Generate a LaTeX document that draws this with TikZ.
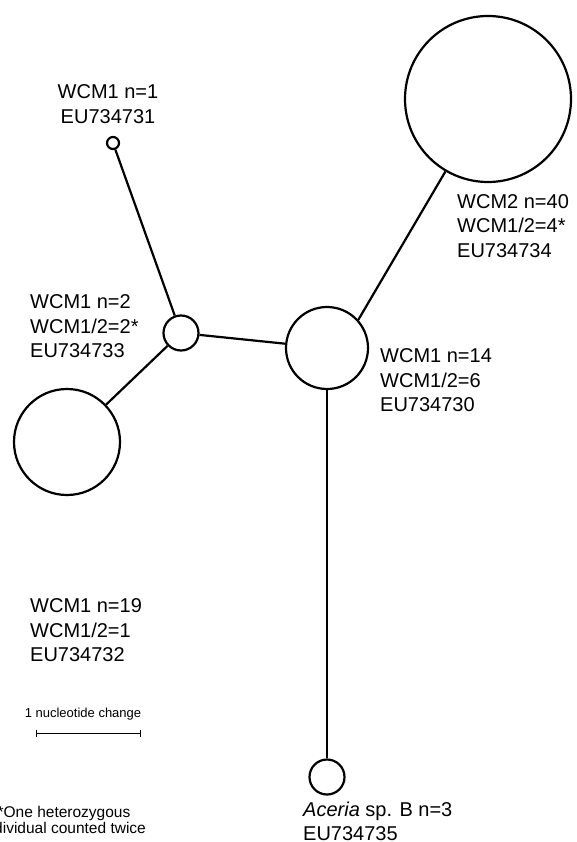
\documentclass[tikz,border=0pt]{standalone}
\usepackage{fontspec}
\setmainfont{Liberation Sans}
\usetikzlibrary{positioning}
\tikzset{
  hap/.style={circle,draw=black,fill=white,line width=2.2pt,inner sep=0pt},
  link/.style={draw=black,line width=2.2pt},
  lab/.style={inner sep=0pt,align=left,anchor=north west,
    font=\fontsize{20}{24.5}\selectfont},
  note/.style={inner sep=0pt,align=center},
}

\begin{document}
\begin{tikzpicture}[x=1pt,y=-1pt]
  \useasboundingbox (0,0) rectangle (576,842);

  % haplotypes
  \node[hap,minimum size=12pt]  (h731) at (113,143) {};
  \node[hap,minimum size=35pt]  (h733) at (181,333) {};
  \node[hap,minimum size=106pt] (h732) at (67,442) {};
  \node[hap,minimum size=82pt]  (h730) at (327,348) {};
  \node[hap,minimum size=166pt] (h734) at (488,99) {};
  \node[hap,minimum size=35pt]  (h735) at (327,777) {};

  % connections
  \draw[link] (h731) -- (h733);
  \draw[link] (h733) -- (h730);
  \draw[link] (h733) -- (h732);
  \draw[link] (h730.42) -- (h734);
  \draw[link] (h730) -- (h735);

  % labels
  \node[lab,align=center,anchor=north] (l731) at (108,84.5) {WCM1 n=1\\EU734731};
  \node[lab] (l734) at (457,194) {WCM2 n=40\\WCM1/2=4*\\EU734734};
  \node[lab] (l733) at (30,294.5) {WCM1 n=2\\WCM1/2=2*\\EU734733};
  \node[lab] (l730) at (380,348.5) {WCM1 n=14\\WCM1/2=6\\EU734730};
  \node[lab] (l732) at (30,598.5) {WCM1 n=19\\WCM1/2=1\\EU734732};
  \node[lab] (l735) at (303,801.5) {\textit{Aceria} sp. B n=3\\EU734735};

  % scale bar
  \coordinate (barL) at (36,733);
  \coordinate (barR) at (140,733);
  \node[note,font=\fontsize{13}{15}\selectfont,anchor=base] (scale) at (83,717) {1 nucleotide change};
  \draw[line width=0.9pt] (barL) -- (barR);
  \draw[line width=0.9pt] (barL) ++(0,-3.5) -- ++(0,7);
  \draw[line width=0.9pt] (barR) ++(0,-3.5) -- ++(0,7);

  % footnote
  \node[note,font=\fontsize{15.5}{16}\selectfont,anchor=north] (foot) at (64,806)
    {*One heterozygous\\individual counted twice};
\end{tikzpicture}
\end{document}
